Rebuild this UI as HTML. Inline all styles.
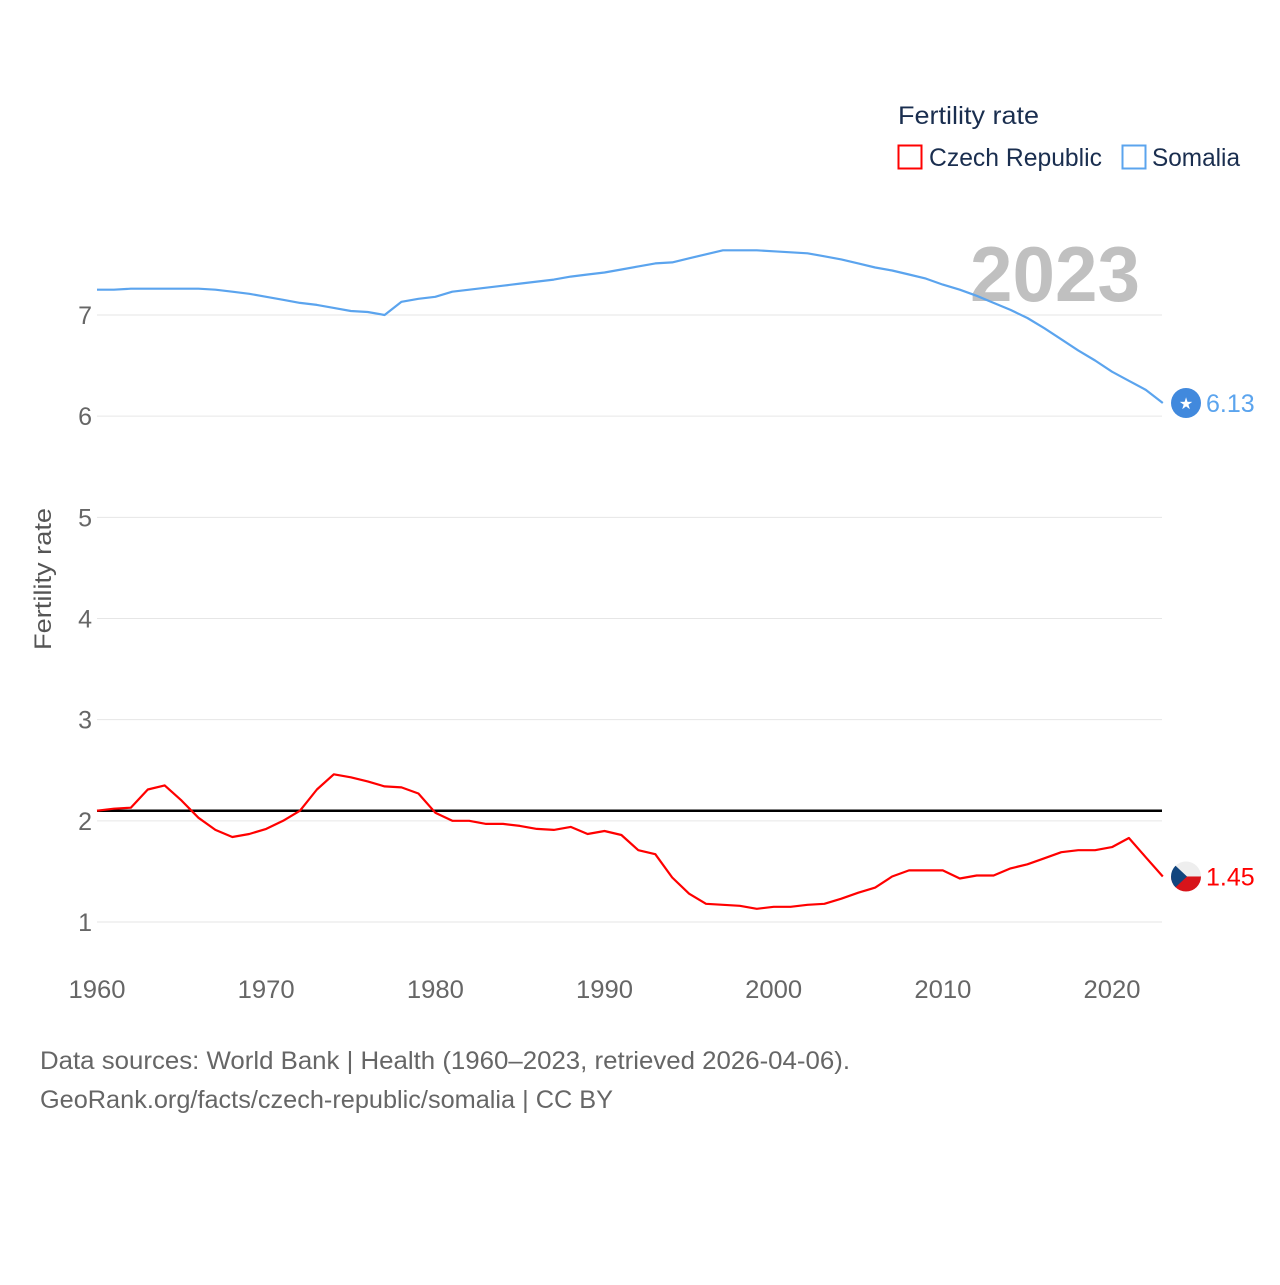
<!DOCTYPE html>
<html><head><meta charset="utf-8">
<style>
html,body{margin:0;padding:0;background:#fff;}
body{width:1280px;height:1280px;overflow:hidden;font-family:"Liberation Sans",sans-serif;}
</style></head>
<body>
<svg id="chart" width="1280" height="1280" xmlns="http://www.w3.org/2000/svg" font-family="Liberation Sans, sans-serif">
  <g id="grid"></g>
  <text x="1055" y="301" text-anchor="middle" font-size="78" font-weight="bold" fill="#c0c0c0" textLength="170" lengthAdjust="spacingAndGlyphs">2023</text>
  <g id="series"></g>
  <g id="xaxis"></g>
  <g id="yaxis"></g>
  <text transform="translate(51,579) rotate(-90)" text-anchor="middle" font-size="24" fill="#555" textLength="142" lengthAdjust="spacingAndGlyphs">Fertility rate</text>
  <g>
    <text x="898" y="124" font-size="25" fill="#1a2e4f" textLength="141" lengthAdjust="spacingAndGlyphs">Fertility rate</text>
    <g>
      <rect x="898.5" y="145.5" width="23" height="23" fill="none" stroke="#ff0000" stroke-width="2"/>
      <text x="929" y="166" font-size="25" fill="#1a2e4f" textLength="173" lengthAdjust="spacingAndGlyphs">Czech Republic</text>
    </g>
    <g>
      <rect x="1122.5" y="145.5" width="23" height="23" fill="none" stroke="#5ba4ee" stroke-width="2"/>
      <text x="1152" y="166" font-size="25" fill="#1a2e4f" textLength="88" lengthAdjust="spacingAndGlyphs">Somalia</text>
    </g>
  </g>
  <g id="endlabels"></g>
  <text x="40" y="1069" font-size="25" fill="#666" textLength="810" lengthAdjust="spacingAndGlyphs">Data sources: World Bank | Health (1960–2023, retrieved 2026-04-06).</text>
  <text x="40" y="1108" font-size="25" fill="#666" textLength="573" lengthAdjust="spacingAndGlyphs">GeoRank.org/facts/czech-republic/somalia | CC BY</text>
</svg>
<script>
const years = [];
for (let y = 1960; y <= 2023; y++) years.push(y);
const czech = [2.10,2.12,2.13,2.31,2.35,2.20,2.03,1.91,1.84,1.87,1.92,2.00,2.10,2.31,2.46,2.43,2.39,2.34,2.33,2.27,2.08,2.00,2.00,1.97,1.97,1.95,1.92,1.91,1.94,1.87,1.90,1.86,1.71,1.67,1.44,1.28,1.18,1.17,1.16,1.13,1.15,1.15,1.17,1.18,1.23,1.29,1.34,1.45,1.51,1.51,1.51,1.43,1.46,1.46,1.53,1.57,1.63,1.69,1.71,1.71,1.74,1.83,1.64,1.45];
const somalia = [7.25,7.25,7.26,7.26,7.26,7.26,7.26,7.25,7.23,7.21,7.18,7.15,7.12,7.10,7.07,7.04,7.03,7.00,7.13,7.16,7.18,7.23,7.25,7.27,7.29,7.31,7.33,7.35,7.38,7.40,7.42,7.45,7.48,7.51,7.52,7.56,7.60,7.64,7.64,7.64,7.63,7.62,7.61,7.58,7.55,7.51,7.47,7.44,7.40,7.36,7.30,7.25,7.19,7.12,7.05,6.97,6.87,6.76,6.65,6.55,6.44,6.35,6.26,6.13];
const yTicks = [1,2,3,4,5,6,7];
const xTicks = [1960,1970,1980,1990,2000,2010,2020];
const replacement = 2.1;
const lastValues = ["6.13","1.45"];

const NS = "http://www.w3.org/2000/svg";
const X = y => 97 + (y - 1960) * (1112 - 97) / 60;
const Y = v => 922 - (v - 1) * (922 - 315) / 6;
function mk(tag, attrs, parent) {
  const e = document.createElementNS(NS, tag);
  for (const k in attrs) e.setAttribute(k, attrs[k]);
  parent.appendChild(e);
  return e;
}
const grid = document.getElementById('grid');
const yaxis = document.getElementById('yaxis');
const xaxis = document.getElementById('xaxis');
const series = document.getElementById('series');
const endl = document.getElementById('endlabels');
yTicks.forEach(v => {
  const l = mk('line', {x1: 97, x2: 1162, y1: Y(v), y2: Y(v), stroke: '#e6e6e6', 'stroke-width': 1}, grid);
  
  
  const t = mk('text', {x: 92, y: Y(v) + 9, 'text-anchor': 'end', 'font-size': 25, fill: '#666'}, yaxis);
  t.textContent = v;
  
  
});
xTicks.forEach(v => {
  const t = mk('text', {x: X(v), y: 998, 'text-anchor': 'middle', 'font-size': 25, fill: '#666', textLength: 57, lengthAdjust: 'spacingAndGlyphs'}, xaxis);
  t.textContent = v;
  
  
});
const ref = mk('line', {x1: 97, x2: 1162, y1: Y(replacement), y2: Y(replacement), stroke: '#000', 'stroke-width': 2.5}, series);


function path(vals, color, name) {
  const d = vals.map((v, i) => (i ? 'L' : 'M') + X(years[i]).toFixed(1) + ',' + Y(v).toFixed(1)).join(' ');
  const p = mk('path', {d: d, fill: 'none', stroke: color, 'stroke-width': 2.2, 'stroke-linejoin': 'round'}, series);
  
  
}
path(somalia, '#5ba4ee', 'somalia-line');
path(czech, '#ff0000', 'czech-republic-line');

const sy = Y(somalia[somalia.length - 1]);
const sc = mk('circle', {cx: 1186, cy: sy, r: 15, fill: '#4189dd'}, endl);


const st = mk('text', {x: 1186, y: sy + 6, 'text-anchor': 'middle', 'font-size': 16, fill: '#fff'}, endl);
st.textContent = '★';


const sl = mk('text', {x: 1206, y: sy + 9, 'font-size': 25, fill: '#5ba4ee'}, endl);
sl.textContent = lastValues[0];



const cy = Y(czech[czech.length - 1]);
const cg = mk('g', {}, endl);


const cp = mk('clipPath', {id: 'cclip'}, cg);
mk('circle', {cx: 1186, cy: cy, r: 15}, cp);
const fg = mk('g', {'clip-path': 'url(#cclip)'}, cg);
mk('rect', {x: 1171, y: cy - 15, width: 30, height: 15, fill: '#eeeeee'}, fg);
mk('rect', {x: 1171, y: cy, width: 30, height: 15, fill: '#d7141a'}, fg);
mk('polygon', {points: `1171,${cy-15} 1187,${cy} 1171,${cy+15}`, fill: '#11457e'}, fg);
const cl = mk('text', {x: 1206, y: cy + 9, 'font-size': 25, fill: '#ff0000'}, endl);
cl.textContent = lastValues[1];


</script>
</body></html>
